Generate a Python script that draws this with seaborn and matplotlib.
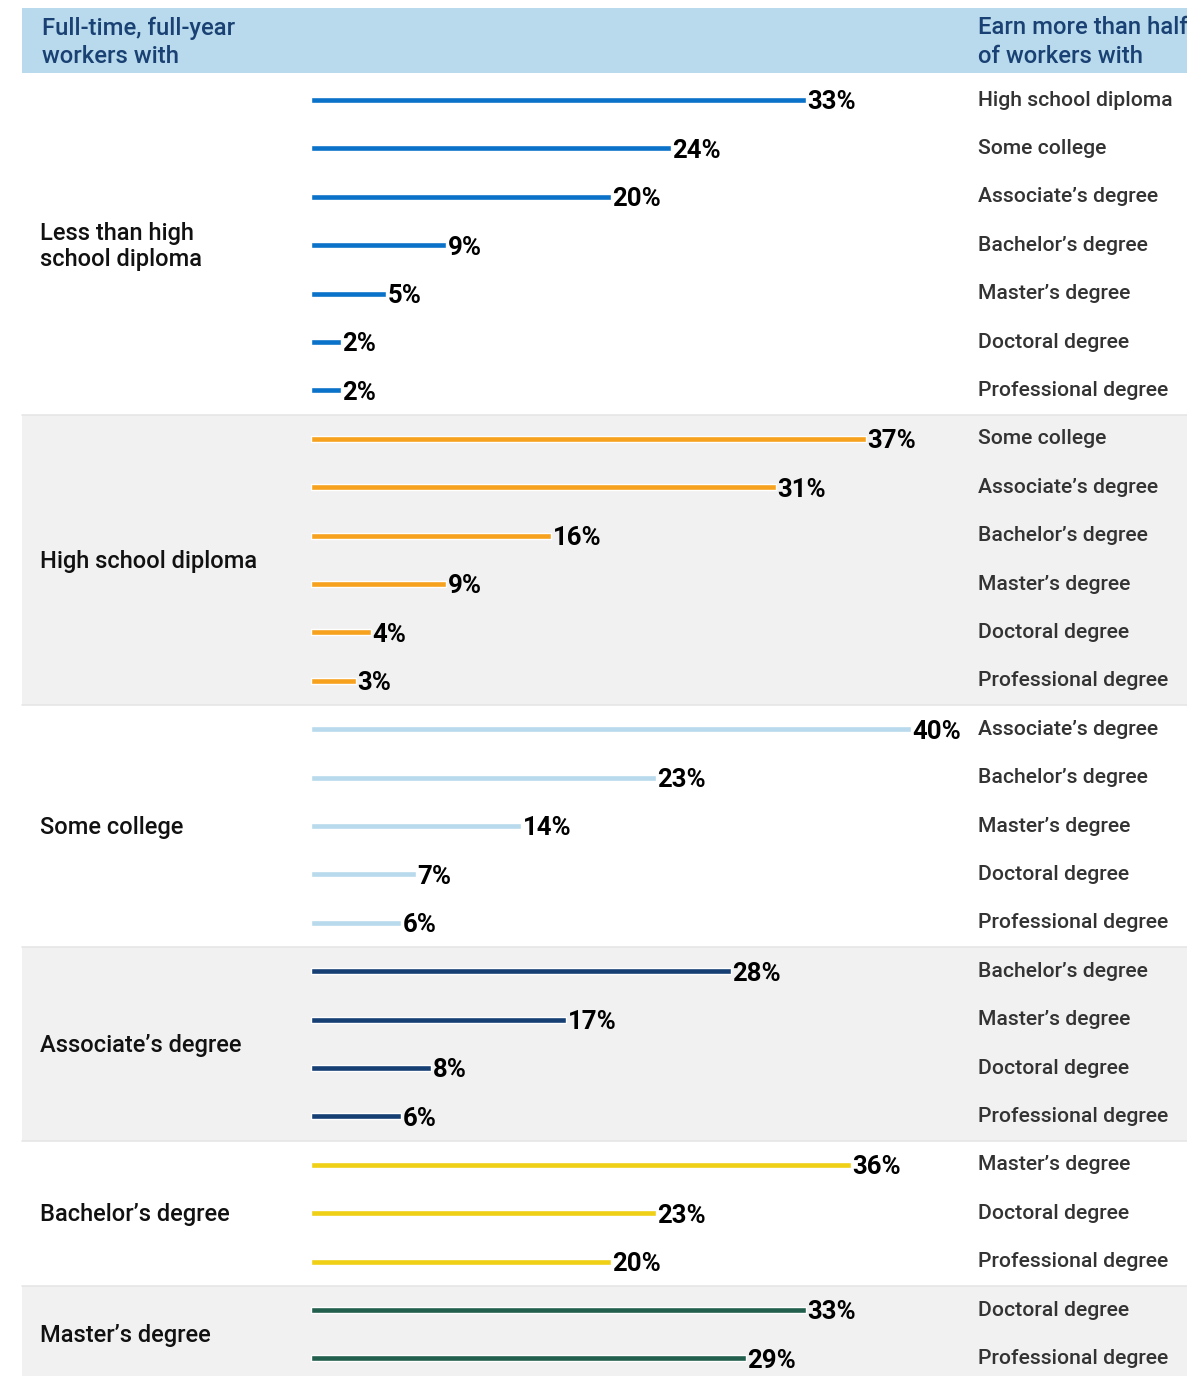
import pandas as pd
import seaborn as sns
import matplotlib.pyplot as plt

# data
groups = ["Less than high\nschool diploma", "High school diploma", "Some college",
          "Associate’s degree", "Bachelor’s degree", "Master’s degree"]
targets = [
    ["High school diploma", "Some college", "Associate’s degree", "Bachelor’s degree",
     "Master’s degree", "Doctoral degree", "Professional degree"],
    ["Some college", "Associate’s degree", "Bachelor’s degree", "Master’s degree",
     "Doctoral degree", "Professional degree"],
    ["Associate’s degree", "Bachelor’s degree", "Master’s degree", "Doctoral degree",
     "Professional degree"],
    ["Bachelor’s degree", "Master’s degree", "Doctoral degree", "Professional degree"],
    ["Master’s degree", "Doctoral degree", "Professional degree"],
    ["Doctoral degree", "Professional degree"],
]
values = [
    [33, 24, 20, 9, 5, 2, 2],
    [37, 31, 16, 9, 4, 3],
    [40, 23, 14, 7, 6],
    [28, 17, 8, 6],
    [36, 23, 20],
    [33, 29],
]
colors = ["#0A72C9", "#F7A21E", "#B8DAEC", "#163F73", "#EFD016", "#235F4D"]

rows = []
for gi, g in enumerate(groups):
    for t, v in zip(targets[gi], values[gi]):
        rows.append({"row": f"{gi}|{t}", "target": t, "value": v, "group": g})
df = pd.DataFrame(rows)
order = list(df["row"])

sns.set_style("white")
plt.rcParams['font.family'] = ['Roboto', 'DejaVu Sans']

fig = plt.figure(figsize=(11.87, 13.76), dpi=100)
ax = fig.add_axes([0, 0, 1, 1])

# pixel mapping: x0 = 311px, 15px per %, first row at 100px, 48.4px per row
x_left = -311 / 15
x_right = (1187 - 311) / 15
y_top = -100 / 48.4
y_bot = (1376 - 100) / 48.4
xmin_frac = 22 / 1187

# header band
ax.axhspan((8 - 100) / 48.4, (73 - 100) / 48.4, xmin=xmin_frac, xmax=1,
           color="#B9DAEC", zorder=0, lw=0)

# group backgrounds + group labels
start = 0
for gi in range(len(groups)):
    n = len(values[gi])
    top = -0.558 if gi == 0 else start - 0.5
    bot = start + n - 0.5 if gi < len(groups) - 1 else y_bot
    if gi % 2 == 1:
        ax.axhspan(top, bot, xmin=xmin_frac, xmax=1, color="#F1F1F1", zorder=0, lw=0)
    if gi > 0:
        ax.axhline(top, xmin=xmin_frac, xmax=1, color="#E6E6E6", lw=1.2, zorder=0.5)
    mid = start + (n - 1) / 2 + 0.03
    ax.text((40 - 311) / 15, mid, groups[gi], ha="left", va="center",
            fontsize=17, fontweight="medium", color="#111111", linespacing=1.2)
    start += n

sns.barplot(data=df, x="value", y="row", hue="group", palette=colors, order=order,
            hue_order=groups, dodge=False, legend=False, width=0.125, orient="h",
            saturation=1, ax=ax, zorder=2)

for i, r in df.iterrows():
    ax.text(r["value"] + 0.1, i + 0.05, f"{r['value']}%", ha="left", va="center",
            fontsize=18.5, fontweight="bold", color="#000000")
    ax.text((978 - 311) / 15, i, r["target"], ha="left", va="center",
            fontsize=15.2, fontweight="medium", color="#333333")

# header text
ax.text((42 - 311) / 15, (42 - 100) / 48.4, "Full-time, full-year\nworkers with",
        ha="left", va="center", fontsize=17.2, fontweight="medium", color="#1A4173",
        linespacing=1.28)
ax.text((978 - 311) / 15, (42 - 100) / 48.4, "Earn more than half\nof workers with",
        ha="left", va="center", fontsize=17.2, fontweight="medium", color="#1A4173",
        linespacing=1.28, clip_on=True)

ax.set_xlim(x_left, x_right)
ax.set_ylim(y_bot, y_top)
ax.axis("off")

fig.savefig("out.png", dpi=100)
